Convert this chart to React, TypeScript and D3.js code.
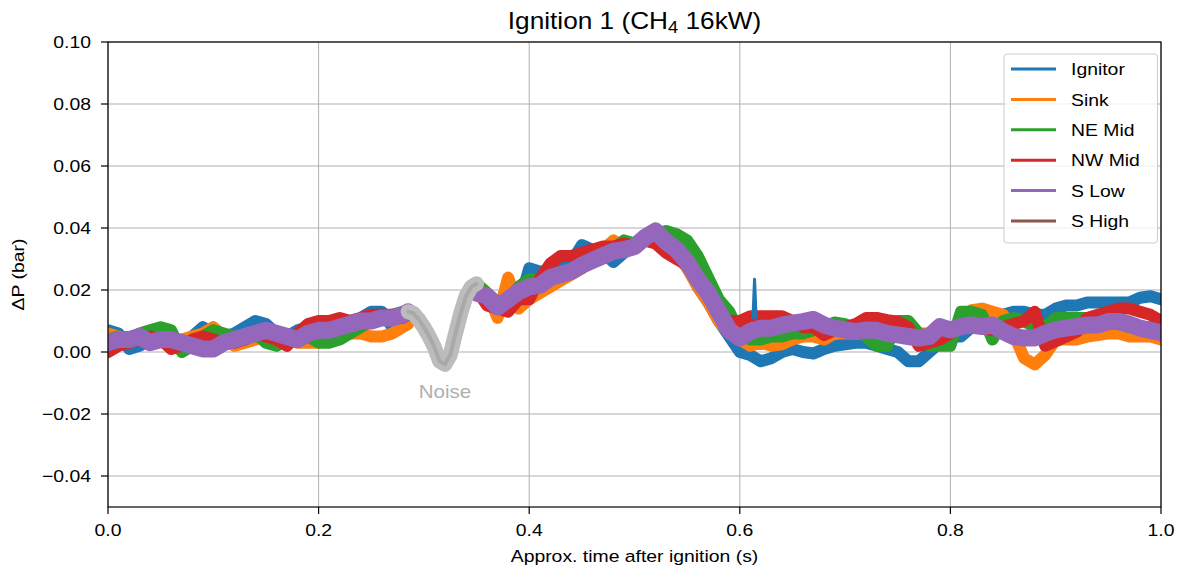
import React from 'react';
import * as d3 from 'd3';

const W = 1183;
const H = 572;
const PL = 108, PT = 42, PR = 1161, PB = 507;

const xTicks = [0, 0.2, 0.4, 0.6, 0.8, 1.0];
const xTickLabels = ['0.0', '0.2', '0.4', '0.6', '0.8', '1.0'];
const yTicks = [0.1, 0.08, 0.06, 0.04, 0.02, 0.0, -0.02, -0.04];
const yTickLabels = ['0.10', '0.08', '0.06', '0.04', '0.02', '0.00', '\u22120.02', '\u22120.04'];

const seriesNames = ['Ignitor', 'Sink', 'NE Mid', 'NW Mid', 'S Low', 'S High'];
const seriesColors = ['#1f77b4', '#ff7f0e', '#2ca02c', '#d62728', '#9467bd', '#8c564b'];

// sample times before the noise window and after it
const timesA = [0, 0.01, 0.02, 0.03, 0.04, 0.05, 0.06, 0.07, 0.08, 0.09, 0.1, 0.11, 0.12, 0.13, 0.14, 0.15, 0.16, 0.17, 0.18, 0.19, 0.2, 0.21, 0.22, 0.23, 0.24, 0.25, 0.26, 0.27, 0.28, 0.285];
const timesB = [0.35, 0.36, 0.37, 0.38, 0.39, 0.4, 0.41, 0.42, 0.43, 0.44, 0.45, 0.46, 0.47, 0.48, 0.49, 0.5, 0.51, 0.52, 0.53, 0.54, 0.55, 0.56, 0.57, 0.58, 0.59, 0.6, 0.61, 0.62, 0.63, 0.64, 0.65, 0.66, 0.67, 0.68, 0.69, 0.7, 0.71, 0.72, 0.73, 0.74, 0.75, 0.76, 0.77, 0.78, 0.79, 0.8, 0.81, 0.82, 0.83, 0.84, 0.85, 0.86, 0.87, 0.88, 0.89, 0.9, 0.91, 0.92, 0.93, 0.94, 0.95, 0.96, 0.97, 0.98, 0.99, 1.0];

const ignitorA = [0.007, 0.006, 0.001, 0.002, 0.004, 0.005, 0.004, 0.003, 0.005, 0.008, 0.006, 0.005, 0.006, 0.008, 0.010, 0.009, 0.006, 0.005, 0.007, 0.008, 0.008, 0.009, 0.009, 0.010, 0.011, 0.013, 0.013, 0.008, 0.010, 0.011];
const ignitorB = [0.021, 0.017, 0.014, 0.016, 0.015,
  0.027, 0.026, 0.026, 0.027, 0.029, 0.0345, 0.033, 0.032, 0.029, 0.032,
  0.034, 0.036, 0.038, 0.037, 0.034, 0.028, 0.021, 0.016, 0.010, 0.005,
  0.000, -0.001, -0.003, -0.002, 0.000, 0.001, 0.000, -0.0005, 0.001, 0.002,
  0.0025, 0.003, 0.003, 0.002, 0.001, 0.000, -0.003, -0.003, 0.000, 0.003,
  0.005, 0.005, 0.008, 0.010, 0.011, 0.012, 0.013, 0.013, 0.012, 0.012,
  0.014, 0.015, 0.015, 0.016, 0.016, 0.016, 0.016, 0.016, 0.0175, 0.018,
  0.017];
const ignitorSpikeT = [0.6125, 0.614, 0.6155];
const ignitorSpikeV = [0.011, 0.0235, 0.011];

const sinkA = [0.006, 0.005, 0.004, 0.005, 0.006, 0.004, 0.003, 0.004, 0.005, 0.006, 0.008, 0.005, 0.002, 0.003, 0.004, 0.005, 0.005, 0.004, 0.003, 0.003, 0.003, 0.004, 0.005, 0.006, 0.006, 0.005, 0.005, 0.006, 0.008, 0.009];
const sinkB = [0.022, 0.019, 0.011, 0.024, 0.014,
  0.017, 0.019, 0.021, 0.023, 0.025, 0.027, 0.030, 0.033, 0.036, 0.034,
  0.034, 0.036, 0.037, 0.035, 0.032, 0.027, 0.021, 0.016, 0.010, 0.006,
  0.004, 0.002, 0.003, 0.002, 0.0025, 0.004, 0.005, 0.005, 0.004, 0.006,
  0.006, 0.006, 0.006, 0.006, 0.006, 0.006, 0.008, 0.006, 0.006, 0.006,
  0.007, 0.010, 0.0135, 0.014, 0.013, 0.012, 0.006, -0.002, -0.004, -0.001,
  0.004, 0.004, 0.004, 0.005, 0.0055, 0.006, 0.006, 0.005, 0.005, 0.005,
  0.004];

const neMidA = [0.004, 0.005, 0.004, 0.006, 0.007, 0.008, 0.007, 0.000, 0.002, 0.005, 0.007, 0.006, 0.005, 0.004, 0.006, 0.003, 0.002, 0.004, 0.006, 0.005, 0.003, 0.003, 0.004, 0.006, 0.008, 0.010, 0.011, 0.012, 0.013, 0.012];
const neMidB = [0.022, 0.019, 0.016, 0.017, 0.021,
  0.0235, 0.023, 0.024, 0.026, 0.026, 0.027, 0.030, 0.032, 0.033, 0.036,
  0.035, 0.037, 0.038, 0.039, 0.038, 0.036, 0.031, 0.024, 0.017, 0.013,
  0.006, 0.004, 0.004, 0.005, 0.005, 0.006, 0.006, 0.007, 0.008, 0.0095,
  0.009, 0.007, 0.005, 0.002, 0.002, 0.010, 0.010, 0.006, 0.002, 0.002,
  0.002, 0.013, 0.013, 0.012, 0.004, 0.010, 0.011, 0.010, 0.008, 0.008,
  0.011, 0.011, 0.011, 0.011, 0.009, 0.009, 0.009, 0.008, 0.008, 0.008,
  0.008];

const nwMidA = [0.000, 0.002, 0.003, 0.004, 0.005, 0.004, 0.001, 0.002, 0.004, 0.005, 0.004, 0.003, 0.003, 0.004, 0.006, 0.005, 0.004, 0.002, 0.006, 0.009, 0.010, 0.010, 0.011, 0.010, 0.011, 0.012, 0.012, 0.012, 0.011, 0.012];
const nwMidB = [0.020, 0.015, 0.014, 0.013, 0.017,
  0.017, 0.0235, 0.0285, 0.031, 0.031, 0.032, 0.033, 0.034, 0.034, 0.035,
  0.034, 0.036, 0.035, 0.032, 0.030, 0.028, 0.024, 0.018, 0.012, 0.010,
  0.010, 0.0115, 0.0115, 0.0115, 0.0115, 0.010, 0.008, 0.008, 0.0055, 0.007,
  0.008, 0.009, 0.011, 0.011, 0.0103, 0.0098, 0.008, 0.002, 0.003, 0.004,
  0.006, 0.008, 0.009, 0.008, 0.007, 0.008, 0.009, 0.010, 0.013, 0.002,
  0.0035, 0.005, 0.0065, 0.011, 0.012, 0.013, 0.014, 0.014, 0.013, 0.012,
  0.010];

const sLowA = [0.003, 0.004, 0.004, 0.005, 0.003, 0.004, 0.004, 0.003, 0.002, 0.001, 0.001, 0.003, 0.004, 0.005, 0.006, 0.007, 0.006, 0.005, 0.004, 0.006, 0.007, 0.007, 0.008, 0.009, 0.010, 0.010, 0.011, 0.011, 0.012, 0.013];
const sLowB = [0.019, 0.018, 0.0145, 0.017, 0.0195,
  0.021, 0.0215, 0.024, 0.025, 0.026, 0.028, 0.0295, 0.031, 0.0325, 0.033,
  0.034, 0.037, 0.039, 0.0355, 0.033, 0.029, 0.0235, 0.019, 0.013, 0.007,
  0.0045, 0.0066, 0.0077, 0.0077, 0.0087, 0.0093, 0.0098, 0.0105, 0.0087, 0.0077,
  0.0071, 0.0066, 0.0071, 0.007, 0.006, 0.0055, 0.005, 0.0045, 0.005, 0.0082,
  0.0071, 0.0082, 0.0087, 0.0082, 0.0087, 0.0066, 0.005, 0.0045, 0.0045, 0.006,
  0.0071, 0.0077, 0.0082, 0.0087, 0.0087, 0.0098, 0.0098, 0.009, 0.0077, 0.007,
  0.0062];

const sHighA: number[] = [];
const sHighB: number[] = [];

const noiseT = [0.285, 0.29, 0.295, 0.3, 0.305, 0.31, 0.315, 0.32, 0.325, 0.33, 0.335, 0.34, 0.345, 0.35];
const noiseV = [0.013, 0.0125, 0.0105, 0.008, 0.005, 0.0015, -0.003, -0.004, -0.001, 0.006, 0.0125, 0.018, 0.021, 0.022];

const seriesA = [ignitorA, sinkA, neMidA, nwMidA, sLowA, sHighA];
const seriesB = [ignitorB, sinkB, neMidB, nwMidB, sLowB, sHighB];
const seriesWidth = [12, 12, 12, 12, 17, 12];

const FONT = '"Liberation Sans", Arial, Helvetica, sans-serif';
const SX = 1.14;

function T({ x, y, children, anchor = 'middle', size = 17, fill = '#000', rotate = 0, dy = '0' }: any) {
  return (
    <text
      transform={`translate(${x},${y}) rotate(${rotate}) scale(${SX},1)`}
      textAnchor={anchor}
      fontFamily={FONT}
      fontSize={size}
      fill={fill}
      dy={dy}
    >
      {children}
    </text>
  );
}

export default function App() {
  const x = d3.scaleLinear().domain([0, 1]).range([PL, PR]);
  const y = d3.scaleLinear().domain([-0.05, 0.1]).range([PB, PT]);
  const line = d3.line<[number, number]>().x((d) => x(d[0])).y((d) => y(d[1]));
  const zip = (t: number[], v: number[]) => v.map((val, i) => [t[i], val] as [number, number]);

  const legendRows = seriesNames.map((n, i) => ({ n, c: seriesColors[i], y: 69 + i * 30.4 }));

  return (
    <svg width={W} height={H} style={{ position: 'absolute', left: 0, top: 0, background: '#fff' }}>
      <defs>
        <clipPath id="plotclip">
          <rect x={PL} y={PT} width={PR - PL} height={PB - PT} />
        </clipPath>
      </defs>
      <rect x={0} y={0} width={W} height={H} fill="#fff" />
      {/* grid */}
      {xTicks.map((t) => (
        <line key={'gx' + t} x1={x(t)} x2={x(t)} y1={PT} y2={PB} stroke="#b0b0b0" strokeWidth={1} />
      ))}
      {yTicks.map((t) => (
        <line key={'gy' + t} x1={PL} x2={PR} y1={y(t)} y2={y(t)} stroke="#b0b0b0" strokeWidth={1} />
      ))}
      {/* data */}
      <g clipPath="url(#plotclip)" fill="none" strokeLinejoin="round" strokeLinecap="round">
        {seriesA.map((vals, i) =>
          vals.length ? (
            <path key={'a' + i} d={line(zip(timesA, vals)) || ''} stroke={seriesColors[i]} strokeWidth={seriesWidth[i]} />
          ) : null
        )}
        {seriesB.map((vals, i) =>
          vals.length ? (
            <path key={'b' + i} d={line(zip(timesB, vals)) || ''} stroke={seriesColors[i]} strokeWidth={seriesWidth[i]} />
          ) : null
        )}
        <path d={line(zip(ignitorSpikeT, ignitorSpikeV)) || ''} stroke={seriesColors[0]} strokeWidth={3} />
        <path d={line(zip(noiseT, noiseV)) || ''} stroke="#bcbcbc" strokeWidth={15} />
        <path d={line(zip(noiseT, noiseV)) || ''} stroke="#a9a9a9" strokeWidth={4} />
      </g>
      <T x={445} y={398} size={18} fill="#b0b0b0">Noise</T>
      {/* frame */}
      <rect x={PL} y={PT} width={PR - PL} height={PB - PT} fill="none" stroke="#000" strokeWidth={1.2} />
      {/* ticks */}
      {xTicks.map((t, i) => (
        <g key={'tx' + t}>
          <line x1={x(t)} x2={x(t)} y1={PB} y2={PB + 7} stroke="#000" strokeWidth={1.2} />
          <T x={x(t)} y={536}>{xTickLabels[i]}</T>
        </g>
      ))}
      {yTicks.map((t, i) => (
        <g key={'ty' + t}>
          <line x1={PL - 7} x2={PL} y1={y(t)} y2={y(t)} stroke="#000" strokeWidth={1.2} />
          <T x={91} y={y(t)} anchor="end" dy="0.36em">{yTickLabels[i]}</T>
        </g>
      ))}
      {/* labels */}
      <T x={(PL + PR) / 2} y={562}>Approx. time after ignition (s)</T>
      <T x={24} y={(PT + PB) / 2} rotate={-90}>ΔP (bar)</T>
      <text
        transform={`translate(${(PL + PR) / 2},29) scale(${SX},1)`}
        textAnchor="middle"
        fontFamily={FONT}
        fontSize={23}
      >
        Ignition 1 (CH<tspan fontSize={16} dy={4}>4</tspan>
        <tspan dy={-4}> 16kW)</tspan>
      </text>
      {/* legend */}
      <rect x={1004} y={54} width={153.5} height={189} rx={3} fill="#fff" fillOpacity={0.8} stroke="#cccccc" strokeWidth={1} />
      {legendRows.map((r) => (
        <g key={r.n}>
          <line x1={1011} x2={1056} y1={r.y} y2={r.y} stroke={r.c} strokeWidth={3} />
          <T x={1071} y={r.y} anchor="start" dy="0.36em">{r.n}</T>
        </g>
      ))}
    </svg>
  );
}
